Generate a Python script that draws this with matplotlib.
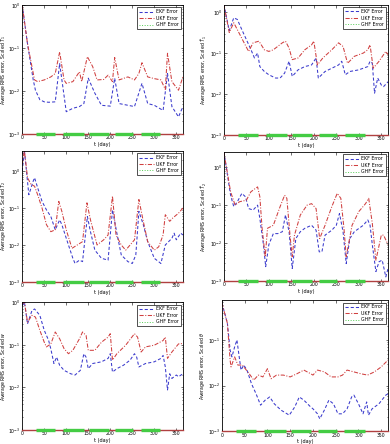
import numpy as np
import matplotlib
matplotlib.use("Agg")
import matplotlib.pyplot as plt

# ---------------- data (log10 of average RMS error) ----------------
t1_ekf = [0, 12, 25, 30, 40, 50, 60, 75, 85, 100, 115, 130, 140, 150, 165, 180, 200, 210, 220, 240, 255, 272, 285, 300, 320, 330, 340, 355, 365]
ekf1 = [0, -0.9, -1.74, -1.98, -2.2, -2.25, -2.26, -2.25, -1.36, -2.48, -2.4, -2.36, -2.29, -1.7, -2.05, -2.33, -2.35, -1.7, -2.29, -2.33, -2.36, -1.82, -2.29, -2.33, -2.45, -1.59, -2.36, -2.6, -2.36]
t1_ukf = [0, 12, 28, 35, 50, 65, 75, 85, 95, 100, 115, 130, 135, 148, 160, 170, 185, 195, 205, 210, 220, 240, 255, 265, 272, 285, 300, 315, 325, 330, 340, 355, 365]
ukf1 = [0, -0.9, -1.74, -1.78, -1.74, -1.67, -1.59, -1.09, -1.74, -1.82, -1.78, -1.55, -1.78, -1.2, -1.43, -1.74, -1.73, -1.63, -1.78, -1.22, -1.74, -1.67, -1.74, -1.59, -1.34, -1.67, -1.71, -1.74, -1.96, -1.12, -1.78, -1.98, -1.67]

t2_ekf = [0, 12, 22, 30, 40, 50, 60, 68, 75, 80, 90, 100, 115, 125, 135, 145, 152, 165, 180, 195, 205, 210, 225, 240, 255, 262, 270, 280, 300, 320, 325, 330, 335, 342, 350, 355, 365]
ekf2 = [0.19, -0.45, -0.14, -0.18, -0.43, -0.67, -0.91, -1.12, -1.0, -1.33, -1.45, -1.53, -1.61, -1.61, -1.49, -1.2, -1.57, -1.41, -1.33, -1.29, -1.12, -1.61, -1.45, -1.37, -1.29, -1.2, -1.53, -1.45, -1.41, -1.33, -1.2, -1.25, -1.98, -1.61, -1.78, -1.82, -1.7]
t2_ukf = [0, 12, 22, 30, 45, 55, 65, 78, 90, 100, 110, 130, 137, 145, 152, 165, 180, 195, 200, 208, 220, 240, 255, 265, 275, 290, 310, 320, 325, 332, 345, 360, 365]
ukf2 = [0.19, -0.5, -0.26, -0.43, -0.75, -0.96, -0.75, -0.71, -0.92, -0.96, -0.92, -0.75, -0.71, -0.88, -1.16, -1.12, -0.92, -0.8, -0.71, -1.29, -1.12, -0.92, -0.75, -0.84, -1.25, -1.08, -1.0, -0.92, -0.8, -1.37, -1.2, -0.96, -1.04]

t3_ekf = [0, 5, 15, 25, 28, 35, 45, 55, 65, 75, 85, 90, 105, 115, 120, 130, 137, 148, 155, 165, 180, 195, 205, 215, 225, 240, 250, 258, 265, 275, 285, 300, 315, 325, 340, 345, 350, 360, 365]
ekf3 = [0, 0.55, -0.64, -0.27, -0.18, -0.45, -0.82, -1.05, -1.23, -1.59, -1.32, -1.45, -2.0, -2.36, -2.5, -2.41, -2.45, -1.23, -1.64, -2.14, -2.36, -2.41, -1.05, -1.68, -2.27, -2.45, -2.5, -2.27, -1.09, -1.45, -1.91, -2.36, -2.5, -2.0, -1.82, -1.68, -1.86, -1.68, -1.73]
t3_ukf = [0, 5, 12, 20, 28, 35, 45, 55, 65, 75, 83, 90, 100, 113, 125, 137, 147, 155, 170, 185, 195, 205, 213, 225, 235, 245, 255, 265, 275, 285, 300, 310, 320, 325, 335, 342, 355, 365]
ukf3 = [0.18, 0.55, -0.18, -0.36, -0.41, -0.64, -1.0, -1.45, -1.64, -1.59, -0.82, -1.09, -1.59, -2.09, -2.0, -1.91, -0.86, -1.32, -2.0, -1.86, -1.73, -0.68, -1.73, -2.0, -2.14, -2.0, -1.86, -0.77, -1.36, -1.91, -2.14, -2.05, -1.73, -1.18, -1.36, -1.27, -1.14, -1.0]

t4_ekf = [0, 15, 22, 30, 40, 48, 55, 65, 75, 80, 88, 93, 100, 110, 120, 130, 137, 145, 152, 160, 170, 180, 195, 205, 212, 218, 225, 240, 250, 257, 265, 272, 280, 290, 310, 320, 325, 330, 338, 345, 352, 360, 365]
ekf4 = [0.4, -0.74, -1.04, -0.91, -0.69, -0.78, -1.09, -1.13, -1.0, -1.35, -2.04, -2.62, -2.04, -1.75, -1.75, -1.7, -1.26, -1.7, -2.67, -1.88, -1.7, -1.61, -1.53, -1.66, -2.23, -2.23, -1.79, -1.66, -1.53, -1.22, -1.7, -2.54, -1.88, -1.7, -1.53, -1.39, -1.53, -2.04, -2.75, -2.49, -2.45, -2.89, -2.67]
t4_ukf = [0, 15, 25, 35, 50, 60, 70, 75, 80, 85, 92, 97, 110, 125, 135, 140, 147, 152, 157, 170, 185, 195, 205, 213, 225, 240, 252, 260, 267, 272, 285, 300, 315, 322, 330, 338, 350, 355, 365]
ukf4 = [0.4, -0.65, -1.0, -0.91, -0.87, -0.65, -0.56, -0.52, -0.78, -1.61, -2.36, -1.61, -1.53, -1.04, -0.74, -0.82, -1.79, -2.36, -1.79, -1.26, -1.0, -0.96, -1.09, -1.88, -1.53, -1.04, -0.69, -0.82, -1.61, -2.36, -1.53, -1.17, -0.96, -0.82, -1.48, -2.45, -1.79, -1.79, -2.04]

t5_ekf = [0, 5, 12, 22, 28, 40, 50, 60, 65, 72, 78, 85, 95, 110, 120, 132, 140, 145, 150, 160, 180, 195, 200, 205, 215, 230, 245, 255, 260, 265, 280, 300, 315, 320, 325, 330, 335, 340, 350, 355, 365]
ekf5 = [-0.08, 0.0, -0.51, -0.2, -0.16, -0.31, -0.66, -0.9, -1.1, -1.44, -1.29, -1.48, -1.6, -1.68, -1.71, -1.6, -1.21, -1.29, -1.56, -1.44, -1.4, -1.32, -1.21, -1.64, -1.56, -1.48, -1.36, -1.21, -1.29, -1.52, -1.44, -1.4, -1.32, -1.25, -1.52, -2.06, -1.68, -1.79, -1.71, -1.75, -1.68]
t5_ukf = [0, 5, 12, 22, 30, 40, 50, 55, 65, 75, 85, 95, 105, 115, 130, 137, 145, 150, 165, 180, 195, 200, 205, 215, 235, 255, 262, 270, 280, 300, 320, 325, 330, 340, 355, 365]
ukf5 = [-0.04, 0.0, -0.47, -0.31, -0.35, -0.66, -0.94, -1.05, -0.98, -0.7, -0.86, -1.09, -1.21, -1.13, -0.86, -0.7, -0.78, -1.13, -1.13, -0.94, -0.82, -0.74, -1.36, -1.21, -1.01, -0.74, -0.82, -1.17, -1.05, -1.01, -0.9, -0.82, -1.32, -1.17, -0.98, -0.97]

t6_ekf = [0, 12, 18, 22, 28, 33, 38, 42, 48, 55, 65, 75, 85, 95, 105, 115, 130, 148, 160, 170, 180, 195, 200, 210, 215, 225, 235, 245, 255, 265, 275, 285, 290, 300, 310, 318, 322, 330, 345, 360, 365]
ekf6 = [-0.19, -0.63, -1.22, -1.37, -1.15, -1.0, -1.37, -1.66, -1.55, -1.66, -1.96, -2.18, -2.43, -2.32, -2.25, -2.4, -2.54, -2.65, -2.47, -2.25, -2.32, -2.47, -2.51, -2.62, -2.73, -2.54, -2.32, -2.4, -2.62, -2.62, -2.51, -2.25, -2.21, -2.4, -2.62, -2.36, -2.65, -2.51, -2.4, -2.21, -2.18]
t6_ukf = [0, 12, 18, 20, 28, 35, 45, 60, 70, 80, 90, 100, 108, 120, 135, 150, 165, 180, 195, 200, 210, 225, 240, 255, 265, 275, 290, 305, 320, 335, 350, 365]
ukf6 = [-0.19, -0.63, -1.44, -1.59, -1.37, -1.55, -1.55, -1.74, -1.88, -1.77, -1.81, -1.63, -1.85, -1.77, -1.77, -1.81, -1.74, -1.66, -1.74, -1.77, -1.66, -1.7, -1.81, -1.81, -1.77, -1.66, -1.7, -1.74, -1.77, -1.7, -1.59, -1.44]

# GHF error stays at the floor of the axis; green segments = eclipse-free windows
ghf_on_start = [31, 93, 151, 211, 269]
ghf_on_end = [75, 140, 196, 252, 314]

ylabels = [r"Average RMS error, Scaled $T_1$",
           r"Average RMS error, Scaled $\bar{T}_1$",
           r"Average RMS error, Scaled $T_2$",
           r"Average RMS error, Scaled $\bar{T}_2$",
           r"Average RMS error, Scaled $w$",
           r"Average RMS error, Scaled $\theta$"]
ytops = [1.0, 1.5, 3.5, 2.5, 1.0, 0.75]
ybottom = 1e-3

panels = [(t1_ekf, ekf1, t1_ukf, ukf1), (t2_ekf, ekf2, t2_ukf, ukf2),
          (t3_ekf, ekf3, t3_ukf, ukf3), (t4_ekf, ekf4, t4_ukf, ukf4),
          (t5_ekf, ekf5, t5_ukf, ukf5), (t6_ekf, ekf6, t6_ukf, ukf6)]

rects = [[0.057, 0.698, 0.412, 0.2905], [0.574, 0.696, 0.421, 0.293],
         [0.057, 0.365, 0.412, 0.295], [0.574, 0.367, 0.421, 0.2905],
         [0.057, 0.0315, 0.412, 0.288], [0.569, 0.029, 0.426, 0.295]]

fig = plt.figure(figsize=(3.9, 4.44), dpi=100)
plt.rcParams['font.family'] = ['DejaVu Sans']

for i, (te, ve, tu, vu) in enumerate(panels):
    ax = fig.add_axes(rects[i])
    ax.set_yscale('log')
    ax.plot(te, 10 ** np.array(ve), color='#3a3acc', ls=(0, (3, 2)), lw=0.75, label='EKF Error')
    ax.plot(tu, 10 ** np.array(vu), color='#d04040', ls=(0, (4, 1.5, 1, 1.5)), lw=0.75, label='UKF Error')
    ax.plot([0, 365], [ybottom, ybottom], color='#b04040', lw=1.0, zorder=5, clip_on=False)
    ax.plot([], [], color='#55cc55', ls=':', lw=0.7, label='GHF Error')
    ax.hlines([ybottom] * len(ghf_on_start), ghf_on_start, ghf_on_end,
              color='#44cc44', lw=2.4, zorder=6, clip_on=False)
    ax.set_xlim(0, 365)
    ax.set_ylim(ybottom, ytops[i])
    ax.set_xticks([0, 50, 100, 150, 200, 250, 300, 350])
    ax.tick_params(which='both', direction='in', top=True, right=True,
                   labelsize=3.3, pad=1.0, length=1.8, width=0.4)
    ax.tick_params(which='minor', length=1.0)
    for s in ax.spines.values():
        s.set_linewidth(0.6)
    ax.set_xlabel('t (day)', fontsize=3.6, labelpad=1)
    ax.set_ylabel(ylabels[i], fontsize=3.3, labelpad=0.5)
    leg = ax.legend(loc='upper right', fontsize=3.4, frameon=True, fancybox=False,
                    edgecolor='black', handlelength=3, borderpad=0.4,
                    labelspacing=0.3, handletextpad=0.5)
    leg.get_frame().set_linewidth(0.6)

fig.savefig('out.png', dpi=100)
